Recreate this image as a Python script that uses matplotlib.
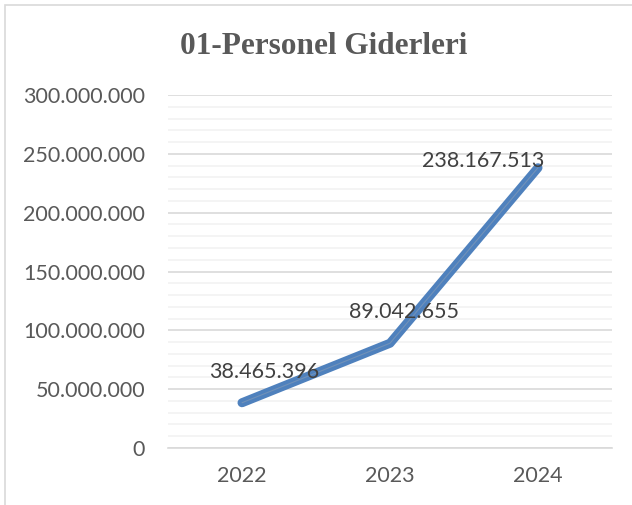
import matplotlib
matplotlib.use("Agg")
import matplotlib.pyplot as plt
from matplotlib.ticker import FuncFormatter, MultipleLocator
from matplotlib.patches import Rectangle

years = ["2022", "2023", "2024"]
values = [38465396, 89042655, 238167513]
labels = ["38.465.396", "89.042.655", "238.167.513"]
label_offsets = [(22, 31), (14, 31), (-55, 7)]

fig = plt.figure(figsize=(6.32, 5.05), dpi=100)
fig.patches.append(Rectangle((5/632, -0.01), 1.0, 1 - 5/505 + 0.01, transform=fig.transFigure,
                             fill=False, edgecolor="#D9D9D9", linewidth=1.2))
ax = fig.add_axes([168/632, 1 - 448/505, (612 - 168)/632, (448 - 95)/505])

x = list(range(len(years)))
ax.plot(x, values, color="#4F81BD", linewidth=6.5, solid_capstyle="round", solid_joinstyle="round", zorder=3)
ax.plot(x, values, color="#B0B0B0", linewidth=0.8, alpha=0.35, solid_capstyle="round", zorder=4)

ax.set_xlim(-0.5, 2.5)
ax.set_ylim(0, 300000000)
ax.yaxis.set_major_locator(MultipleLocator(50000000))
ax.yaxis.set_minor_locator(MultipleLocator(10000000))
ax.grid(which="major", axis="y", color="#D9D9D9", linewidth=1.2)
ax.grid(which="minor", axis="y", color="#F2F2F2", linewidth=1.2)
ax.set_axisbelow(True)
for s in ["top", "right", "left"]:
    ax.spines[s].set_visible(False)
ax.spines["bottom"].set_color("#D9D9D9")
ax.spines["bottom"].set_linewidth(1.2)

ax.yaxis.set_major_formatter(FuncFormatter(lambda v, p: f"{int(v):,}".replace(",", ".")))
ax.set_xticks(x)
ax.set_xticklabels(years)
ax.tick_params(axis="both", which="both", length=0, labelsize=15.5, labelcolor="#595959")
ax.tick_params(axis="y", pad=16.5)
ax.tick_params(axis="x", pad=13)
for t in ax.get_xticklabels() + ax.get_yticklabels():
    t.set_fontfamily("Lato")

for xi, v, lab, off in zip(x, values, labels, label_offsets):
    ax.annotate(lab, (xi, v), xytext=off, textcoords="offset pixels", ha="center", va="center",
                fontsize=15.5, color="#404040", family="Lato", zorder=5)

fig.text(324/632, 1 - 47/505, "01-Personel Giderleri", ha="center", va="center",
         fontsize=22.5, fontweight="bold", family="Liberation Serif", color="#595959")

fig.savefig("out.png", dpi=100)
